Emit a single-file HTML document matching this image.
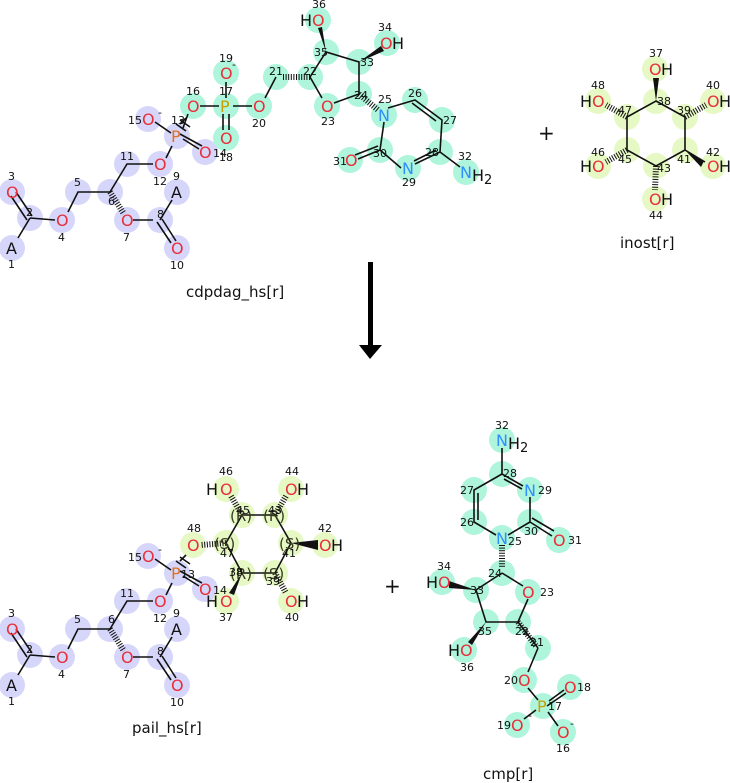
<!DOCTYPE html>
<html><head><meta charset="utf-8"><style>
html,body{margin:0;padding:0;background:#fff;width:730px;height:783px;overflow:hidden}
svg{display:block;font-family:"DejaVu Sans","Liberation Sans",sans-serif}
.b{stroke:#111;stroke-width:1.6;fill:none}
.h{stroke:#111;stroke-width:6;stroke-dasharray:1 1.6;fill:none}
.n{font-size:11px;fill:#111}
.o{font-size:16px;fill:#e8303a}
.nn{font-size:16px;fill:#2f8fff}
.p{font-size:16px;fill:#e07020}
.pg{font-size:16px;fill:#c8a000}
.k{font-size:16px;fill:#111}
.lb{font-size:15px;fill:#111}
circle{r:13px}
.cb circle{fill:#d6d6fa}
.cm circle{fill:#aef5dc}
.cy circle{fill:#e6f8c4}
</style></head><body>
<svg width="730" height="783" viewBox="0 0 730 783">
<g class="cb">
<circle cx="12" cy="248" r="13"/><circle cx="30" cy="218" r="13"/><circle cx="12" cy="192" r="13"/><circle cx="62" cy="220" r="13"/><circle cx="78" cy="192" r="13"/><circle cx="110" cy="192" r="13"/><circle cx="127" cy="220" r="13"/><circle cx="160" cy="220" r="13"/><circle cx="177" cy="192" r="13"/><circle cx="177" cy="248" r="13"/><circle cx="127" cy="164" r="13"/><circle cx="160" cy="164" r="13"/><circle cx="177" cy="136" r="13"/><circle cx="205" cy="152" r="13"/><circle cx="148" cy="119" r="13"/>
</g>
<g class="cb">
<circle cx="12" cy="685" r="13"/><circle cx="30" cy="655" r="13"/><circle cx="12" cy="629" r="13"/><circle cx="62" cy="657" r="13"/><circle cx="78" cy="629" r="13"/><circle cx="110" cy="629" r="13"/><circle cx="127" cy="657" r="13"/><circle cx="160" cy="657" r="13"/><circle cx="177" cy="629" r="13"/><circle cx="177" cy="685" r="13"/><circle cx="127" cy="601" r="13"/><circle cx="160" cy="601" r="13"/><circle cx="177" cy="573" r="13"/><circle cx="205" cy="589" r="13"/><circle cx="148" cy="556" r="13"/>
</g>
<g class="cm">
<circle cx="193" cy="106" r="13"/><circle cx="226" cy="106" r="13"/><circle cx="226" cy="138" r="13"/><circle cx="226" cy="73" r="13"/><circle cx="259" cy="106" r="13"/><circle cx="276" cy="77" r="13"/><circle cx="310" cy="77" r="13"/><circle cx="327" cy="106" r="13"/><circle cx="359" cy="94" r="13"/><circle cx="384" cy="115" r="13"/><circle cx="415" cy="100" r="13"/><circle cx="442" cy="120" r="13"/><circle cx="440" cy="152" r="13"/><circle cx="408" cy="168" r="13"/><circle cx="380" cy="150" r="13"/><circle cx="350" cy="160" r="13"/><circle cx="466" cy="172" r="13"/><circle cx="359" cy="62" r="13"/><circle cx="387" cy="43" r="13"/><circle cx="326" cy="52" r="13"/><circle cx="318" cy="20" r="13"/>
</g>
<g class="cy">
<circle cx="655" cy="69" r="13"/><circle cx="656" cy="101" r="13"/><circle cx="685" cy="117" r="13"/><circle cx="713" cy="101" r="13"/><circle cx="685" cy="150" r="13"/><circle cx="713" cy="166" r="13"/><circle cx="656" cy="166" r="13"/><circle cx="655" cy="199" r="13"/><circle cx="627" cy="150" r="13"/><circle cx="598" cy="166" r="13"/><circle cx="627" cy="117" r="13"/><circle cx="598" cy="101" r="13"/>
</g>
<g class="cy">
<circle cx="226" cy="489" r="13"/><circle cx="242" cy="515" r="13"/><circle cx="275" cy="515" r="13"/><circle cx="291" cy="489" r="13"/><circle cx="226" cy="543" r="13"/><circle cx="291" cy="543" r="13"/><circle cx="325" cy="545" r="13"/><circle cx="193" cy="545" r="13"/><circle cx="242" cy="573" r="13"/><circle cx="275" cy="573" r="13"/><circle cx="226" cy="601" r="13"/><circle cx="291" cy="601" r="13"/>
</g>
<g class="cm">
<circle cx="502" cy="440" r="13"/><circle cx="502" cy="474" r="13"/><circle cx="530" cy="490" r="13"/><circle cx="474" cy="490" r="13"/><circle cx="474" cy="522" r="13"/><circle cx="530" cy="522" r="13"/><circle cx="559" cy="540" r="13"/><circle cx="502" cy="538" r="13"/><circle cx="502" cy="573" r="13"/><circle cx="476" cy="590" r="13"/><circle cx="442" cy="582" r="13"/><circle cx="528" cy="592" r="13"/><circle cx="486" cy="622" r="13"/><circle cx="518" cy="622" r="13"/><circle cx="464" cy="650" r="13"/><circle cx="538" cy="648" r="13"/><circle cx="524" cy="680" r="13"/><circle cx="543" cy="706" r="13"/><circle cx="570" cy="687" r="13"/><circle cx="563" cy="732" r="13"/><circle cx="517" cy="725" r="13"/>
</g>

<g>
<path class="b" d="M18,238 L30,218 M32,216 L16,192 M27,220 L11,196 M30,218 L55,220 M68,212 L78,192 L110,192 L127,164 L153,164 M166,158 L172,146 M183,139 L199,149 M180,134 L202,146 M171,133 L155,122 M133,220 L153,220 M160,220 L172,200 M162,219 L176,241 M157,222 L171,243"/>
<path class="h" d="M110,192 L124,214"/>
<path class="b" d="M180,124 L186,118 M176,124 L186,131 M180,120 L190,127"/>
</g>
<g transform="translate(0,437)">
<path class="b" d="M18,238 L30,218 M32,216 L16,192 M27,220 L11,196 M30,218 L55,220 M68,212 L78,192 L110,192 L127,164 L153,164 M166,158 L172,146 M183,139 L199,149 M180,134 L202,146 M171,133 L155,122 M133,220 L153,220 M160,220 L172,200 M162,219 L176,241 M157,222 L171,243"/>
<path class="h" d="M110,192 L124,214"/>
<path class="b" d="M180,124 L186,118 M176,124 L186,131 M180,120 L190,127"/>
</g>
<path class="b" d="M183,128 L188,114 M200,106 L219,106 M233,106 L252,106 M226,98 L226,82 M223,114 L223,130 M229,114 L229,130 M265,98 L276,77 M310,77 L322,98 M334,103 L359,94 L359,62 L326,52 L310,77 M388,108 L415,100 L442,120 L440,152 L415,164 M412,103 L436,121 M436,150 L414,161 M401,168 L380,150 L384,122 M380,150 L358,159 M378,146 L355,155 M440,152 L460,167"/>
<path class="h" d="M310,77 L282,77"/>
<path class="h" d="M359,94 L378,110"/>
<polygon points="359,62 381,46 384,51" fill="#111"/>
<polygon points="326,52 318,28 322,27" fill="#111"/>
<path class="b" d="M656,101 L685,117 L685,150 L656,166 L627,150 L627,117 Z M685,150 L705,162"/>
<polygon points="656,101 653,78 659,78" fill="#111"/>
<polygon points="685,150 704,161 701,167" fill="#111"/>
<path class="h" d="M685,117 L706,105"/>
<path class="h" d="M656,166 L655,190"/>
<path class="h" d="M627,150 L606,162"/>
<path class="h" d="M627,117 L606,105"/>
<path class="b" d="M242,515 L275,515 L291,543 L275,573 L242,573 L226,543 Z"/>
<path class="h" d="M242,515 L231,496"/>
<path class="h" d="M275,515 L286,496"/>
<path class="h" d="M226,543 L201,545"/>
<path class="h" d="M275,573 L286,593"/>
<polygon points="291,543 318,540 318,550" fill="#111"/>
<polygon points="242,573 229,593 234,595" fill="#111"/>
<path class="b" d="M502,448 L502,474 L523,486 M504,479 L522,489 M502,474 L474,490 L474,522 L496,535 M478,493 L478,520 M530,497 L530,522 L508,535 M530,522 L552,536 M532,518 L554,531 M502,573 L523,586 M502,573 L476,590 L486,622 L518,622 L528,599 M518,622 L538,648 M538,648 L528,672 M528,688 L538,700 M549,701 L564,690 M547,706 L566,693 M548,712 L558,726 M536,710 L524,719"/>
<path class="h" d="M502,545 L502,568"/>
<path class="h" d="M518,622 L536,646"/>
<polygon points="476,590 449,581 449,588" fill="#111"/>
<polygon points="486,622 468,642 472,645" fill="#111"/>

<rect x="368" y="262" width="5" height="85" fill="#000"/>
<polygon points="359,345 382,345 370,359" fill="#000"/>

<g>
<text class="k" x="6" y="254">A</text><text class="o" x="6" y="198">O</text><text class="o" x="56" y="226">O</text><text class="o" x="121" y="226">O</text><text class="k" x="171" y="198">A</text><text class="o" x="171" y="254">O</text><text class="o" x="154" y="170">O</text><text class="p" x="171" y="142">P</text><text class="o" x="199" y="158">O</text><text class="o" x="142" y="125">O</text>
<text class="n" x="8" y="268">1</text><text class="n" x="26" y="216">2</text><text class="n" x="8" y="180">3</text><text class="n" x="58" y="241">4</text><text class="n" x="74" y="186">5</text><text class="n" x="108" y="205">6</text><text class="n" x="123" y="241">7</text><text class="n" x="157" y="218">8</text><text class="n" x="173" y="180">9</text><text class="n" x="170" y="269">10</text><text class="n" x="120" y="160">11</text><text class="n" x="153" y="185">12</text><text class="n" x="171" y="124">13</text><text class="n" x="213" y="157">14</text><text class="n" x="128" y="124">15</text><text class="n" x="158" y="116">-</text>
</g>
<g transform="translate(0,437)">
<text class="k" x="6" y="254">A</text><text class="o" x="6" y="198">O</text><text class="o" x="56" y="226">O</text><text class="o" x="121" y="226">O</text><text class="k" x="171" y="198">A</text><text class="o" x="171" y="254">O</text><text class="o" x="154" y="170">O</text><text class="p" x="171" y="142">P</text><text class="o" x="199" y="158">O</text><text class="o" x="142" y="125">O</text>
<text class="n" x="8" y="268">1</text><text class="n" x="26" y="216">2</text><text class="n" x="8" y="180">3</text><text class="n" x="58" y="241">4</text><text class="n" x="74" y="186">5</text><text class="n" x="108" y="186">6</text><text class="n" x="123" y="241">7</text><text class="n" x="157" y="218">8</text><text class="n" x="173" y="180">9</text><text class="n" x="170" y="269">10</text><text class="n" x="120" y="160">11</text><text class="n" x="153" y="185">12</text><text class="n" x="181" y="141">13</text><text class="n" x="213" y="157">14</text><text class="n" x="128" y="124">15</text><text class="n" x="158" y="116">-</text>
</g>
<text class="o" x="187" y="112">O</text><text class="pg" x="220" y="112">P</text><text class="o" x="220" y="144">O</text><text class="o" x="220" y="79">O</text><text class="o" x="253" y="112">O</text><text class="o" x="321" y="112">O</text><text class="nn" x="378" y="121">N</text><text class="nn" x="402" y="174">N</text><text class="o" x="345" y="166">O</text><text class="nn" x="460" y="178">N</text><text class="k" x="472" y="181">H</text><text class="k" x="484" y="184" style="font-size:13px">2</text><text class="o" x="380" y="49">O</text><text class="k" x="392" y="49">H</text><text class="k" x="300" y="26">H</text><text class="o" x="312" y="26">O</text>
<text class="n" x="186" y="95">16</text><text class="n" x="219" y="95">17</text><text class="n" x="219" y="161">18</text><text class="n" x="219" y="62">19</text><text class="n" x="232" y="68">-</text><text class="n" x="252" y="127">20</text><text class="n" x="269" y="75">21</text><text class="n" x="303" y="75">22</text><text class="n" x="321" y="125">23</text><text class="n" x="354" y="99">24</text><text class="n" x="378" y="103">25</text><text class="n" x="408" y="97">26</text><text class="n" x="443" y="124">27</text><text class="n" x="425" y="156">28</text><text class="n" x="402" y="186">29</text><text class="n" x="373" y="157">30</text><text class="n" x="333" y="165">31</text><text class="n" x="458" y="160">32</text><text class="n" x="360" y="66">33</text><text class="n" x="378" y="31">34</text><text class="n" x="314" y="56">35</text><text class="n" x="312" y="8">36</text>
<text class="o" x="649" y="75">O</text><text class="k" x="661" y="75">H</text><text class="o" x="707" y="107">O</text><text class="k" x="719" y="107">H</text><text class="o" x="707" y="172">O</text><text class="k" x="719" y="172">H</text><text class="o" x="649" y="205">O</text><text class="k" x="661" y="205">H</text><text class="k" x="580" y="172">H</text><text class="o" x="592" y="172">O</text><text class="k" x="580" y="107">H</text><text class="o" x="592" y="107">O</text>
<text class="n" x="649" y="57">37</text><text class="n" x="657" y="105">38</text><text class="n" x="677" y="114">39</text><text class="n" x="706" y="89">40</text><text class="n" x="677" y="163">41</text><text class="n" x="706" y="156">42</text><text class="n" x="657" y="172">43</text><text class="n" x="649" y="219">44</text><text class="n" x="618" y="163">45</text><text class="n" x="591" y="156">46</text><text class="n" x="618" y="114">47</text><text class="n" x="591" y="89">48</text>
<text class="k" x="206" y="495">H</text><text class="o" x="220" y="495">O</text><text class="o" x="285" y="495">O</text><text class="k" x="297" y="495">H</text><text class="o" x="187" y="551">O</text><text class="o" x="319" y="551">O</text><text class="k" x="331" y="551">H</text><text class="k" x="206" y="607">H</text><text class="o" x="220" y="607">O</text><text class="o" x="285" y="607">O</text><text class="k" x="297" y="607">H</text>
<g style="font-size:15px;fill:#3a3a20">
<text x="230" y="521">(R)</text><text x="263" y="521">(R)</text><text x="214" y="549">(S)</text><text x="279" y="549">(S)</text><text x="230" y="579">(R)</text><text x="263" y="579">(S)</text>
</g>
<text class="n" x="219" y="475">46</text><text class="n" x="285" y="475">44</text><text class="n" x="236" y="514">45</text><text class="n" x="268" y="514">43</text><text class="n" x="187" y="532">48</text><text class="n" x="318" y="532">42</text><text class="n" x="220" y="557">47</text><text class="n" x="282" y="557">41</text><text class="n" x="229" y="576">38</text><text class="n" x="266" y="585">39</text><text class="n" x="219" y="621">37</text><text class="n" x="285" y="621">40</text>
<text class="nn" x="496" y="446">N</text><text class="k" x="508" y="449">H</text><text class="k" x="520" y="452" style="font-size:13px">2</text><text class="nn" x="524" y="496">N</text><text class="nn" x="496" y="544">N</text><text class="o" x="553" y="546">O</text><text class="k" x="426" y="588">H</text><text class="o" x="438" y="588">O</text><text class="o" x="522" y="598">O</text><text class="k" x="448" y="656">H</text><text class="o" x="460" y="656">O</text><text class="o" x="518" y="686">O</text><text class="pg" x="537" y="712">P</text><text class="o" x="564" y="693">O</text><text class="o" x="557" y="738">O</text><text class="o" x="511" y="731">O</text>
<text class="n" x="495" y="429">32</text><text class="n" x="503" y="477">28</text><text class="n" x="538" y="494">29</text><text class="n" x="460" y="494">27</text><text class="n" x="460" y="526">26</text><text class="n" x="524" y="535">30</text><text class="n" x="568" y="544">31</text><text class="n" x="508" y="545">25</text><text class="n" x="488" y="577">24</text><text class="n" x="470" y="594">33</text><text class="n" x="437" y="570">34</text><text class="n" x="540" y="596">23</text><text class="n" x="478" y="635">35</text><text class="n" x="515" y="635">22</text><text class="n" x="530" y="646">21</text><text class="n" x="460" y="671">36</text><text class="n" x="504" y="684">20</text><text class="n" x="548" y="710">17</text><text class="n" x="577" y="691">18</text><text class="n" x="497" y="729">19</text><text class="n" x="528" y="719">-</text><text class="n" x="556" y="752">16</text><text class="n" x="570" y="727">-</text>

<text x="538" y="140" style="font-size:20px;fill:#111">+</text>
<text x="384" y="593" style="font-size:20px;fill:#111">+</text>
<text class="lb" x="186" y="297">cdpdag_hs[r]</text>
<text class="lb" x="620" y="248">inost[r]</text>
<text class="lb" x="132" y="733">pail_hs[r]</text>
<text class="lb" x="483" y="779">cmp[r]</text>
</svg>
</body></html>
